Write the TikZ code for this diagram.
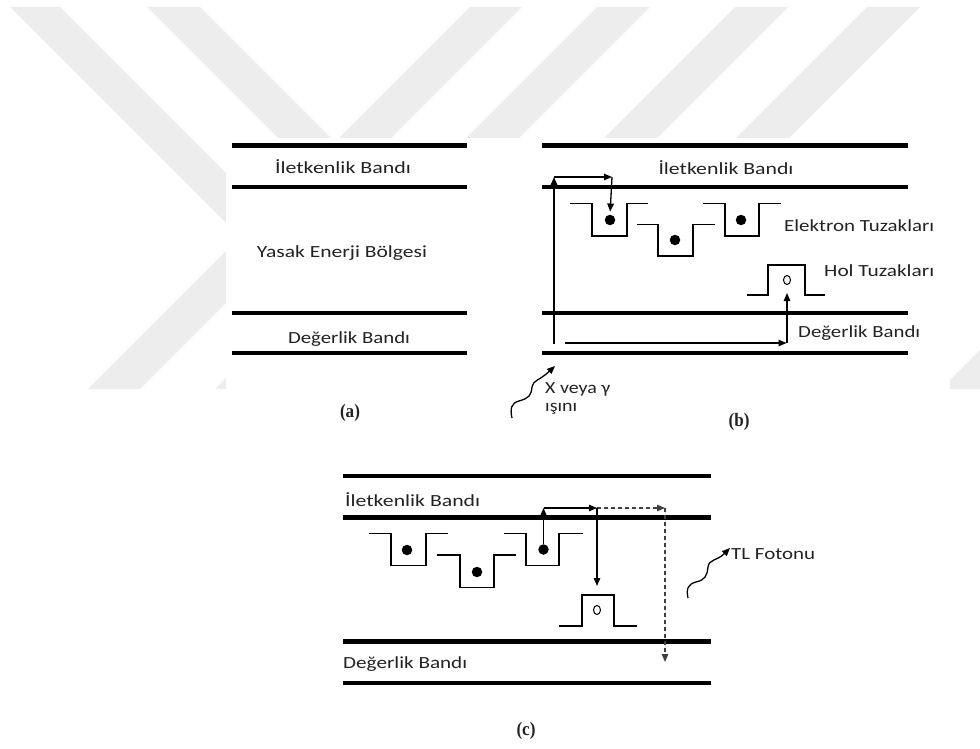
\documentclass[tikz,border=0pt]{standalone}
\usepackage{fontspec}
\setmainfont{Carlito}
\newfontfamily\serifb{Liberation Serif}
\usetikzlibrary{arrows.meta,shapes.geometric}
\definecolor{wm}{RGB}{237,237,237}
\definecolor{txt}{RGB}{35,35,35}
\newcommand\wt[2]{\resizebox{#1pt}{\height}{#2}}
\newcommand\tg[1]{\scalebox{0.9}[1]{\fontsize{19}{22}\selectfont\serifb\bfseries #1}}
\begin{document}
\begin{tikzpicture}[x=1pt,y=-1pt,
  band/.style={line width=4.7pt},
  trap/.style={line width=1.4pt},
  arr/.style={line width=1.3pt,-{Triangle[length=8pt,width=6.5pt]}},
  darr/.style={arr,dash pattern=on 4pt off 3pt,draw=black!75,fill=black!75},
  edot/.style={circle,fill=black,inner sep=0pt,minimum size=10.5pt},
  hole/.style={ellipse,draw,line width=1pt,inner sep=0pt,minimum width=7pt,minimum height=9pt},
  lab/.style={font=\fontsize{17}{20}\selectfont,text=txt,inner sep=0pt},
  tag/.style={inner sep=0pt,text=txt}]
\useasboundingbox (0,0) rectangle (980,749);
\fill[white] (0,0) rectangle (980,749);
% watermark
\begin{scope}
\clip (0,7) rectangle (980,388);
\fill[wm] (10,7) -- (60,7) -- (443,390) -- (393,390) -- cycle;
\fill[wm] (147,7) -- (200,7) -- (583,390) -- (530,390) -- cycle;
\fill[wm] (470,7) -- (522,7) -- (139,390) -- (87,390) -- cycle;
\fill[wm] (597,7) -- (650,7) -- (267,390) -- (214,390) -- cycle;
\fill[wm] (735,7) -- (788,7) -- (405,390) -- (352,390) -- cycle;
\fill[wm] (867,7) -- (920,7) -- (537,390) -- (484,390) -- cycle;
\fill[wm] (985,345) -- (985,390) -- (940,390) -- cycle;
\end{scope}
\fill[white] (226,138) rectangle (950,749);

% ---------- (a)
\draw[band] (232,145.7) -- (467,145.7);
\draw[band] (232,187) -- (467,187);
\draw[band] (232,313) -- (467,313);
\draw[band] (232,353) -- (467,353);
\node[lab,anchor=base] (acb) at (343,173.3) {\wt{136}{İletkenlik Bandı}};
\node[lab,anchor=base] (agap) at (342,257.7) {\wt{170}{Yasak Enerji Bölgesi}};
\node[lab,anchor=base] (avb) at (349,343) {\wt{122}{Değerlik Bandı}};
\node[tag] (taga) at (350,413) {\tg{(a)}};

% ---------- (b)
\draw[band] (542,145.7) -- (908,145.7);
\draw[band] (542,187) -- (908,187);
\draw[band] (542,313) -- (908,313);
\draw[band] (542,353) -- (908,353);
\draw[trap] (570,203.3) -- (592,203.3) -- (592,236) -- (627,236) -- (627,203.3) -- (648,203.3);
\draw[trap] (637,224.3) -- (658,224.3) -- (658,256) -- (693,256) -- (693,224.3) -- (715,224.3);
\draw[trap] (703,203.3) -- (725,203.3) -- (725,236) -- (759,236) -- (759,203.3) -- (781,203.3);
\draw[trap] (747,295) -- (768,295) -- (768,265) -- (805,265) -- (805,295) -- (825,295);
\node[edot] (b1) at (610,220) {};
\node[edot] (b2) at (675,240) {};
\node[edot] (b3) at (741,220) {};
\node[hole] (bh) at (787,280) {};
\node[lab,anchor=base] (bcb) at (726,175) {\wt{135}{İletkenlik Bandı}};
\node[lab,anchor=base west] (bet) at (784,231.7) {\wt{150}{Elektron Tuzakları}};
\node[lab,anchor=base west] (bht) at (824,276.7) {\wt{110}{Hol Tuzakları}};
\node[lab,anchor=base west] (bvb) at (798,337.3) {\wt{122}{Değerlik Bandı}};
\node[lab,anchor=base west] (bx1) at (545,393) {\wt{65}{X veya γ}};
\node[lab,anchor=base west] (bx2) at (545,411) {\wt{32}{ışını}};
\node[tag] (tagb) at (739,422) {\tg{(b)}};
\coordinate (bs) at (554,344);
\coordinate (bt) at (554,177);
\coordinate (br) at (612,177);
\coordinate (bh0) at (565,343);
\coordinate (bh1) at (787,343);
\coordinate (bhu) at (787,293);
\draw[arr] (bs) -- (bt);
\draw[arr] (bt) -- (br);
\draw[arr,shorten >=3pt] (br) -- (b1.north);
\draw[arr,shorten >=0.5pt] (bh0) -- (bh1);
\draw[arr] (bh1) -- (bhu);
\coordinate (xw0) at (512,418);
\coordinate (xw1) at (555,366);
\draw[arr] (xw0) .. controls (510,409) and (511,403) .. (519,401)
  .. controls (529,398) and (531,396) .. (532,387)
  .. controls (533,380) and (539,381) .. (xw1);

% ---------- (c)
\draw[band] (343,476) -- (711,476);
\draw[band] (343,517.7) -- (711,517.7);
\draw[band] (343,641.7) -- (711,641.7);
\draw[band] (343,683) -- (711,683);
\draw[trap] (369,533.3) -- (391,533.3) -- (391,565.3) -- (426,565.3) -- (426,533.3) -- (448,533.3);
\draw[trap] (437,555) -- (460,555) -- (460,587.3) -- (494,587.3) -- (494,555) -- (516,555);
\draw[trap] (504,533.3) -- (526,533.3) -- (526,565.3) -- (559,565.3) -- (559,533.3) -- (583,533.3);
\draw[trap] (559,626) -- (582,626) -- (582,595) -- (614,595) -- (614,626) -- (637,626);
\node[edot] (c1) at (407,550) {};
\node[edot] (c2) at (477,572) {};
\node[edot] (c3) at (543.5,549.5) {};
\node[hole] (ch) at (597,610) {};
\node[lab,anchor=base west] (ccb) at (345,506.7) {\wt{135}{İletkenlik Bandı}};
\node[lab,anchor=base west] (cvb) at (343,668.3) {\wt{124}{Değerlik Bandı}};
\node[lab,anchor=base west] (ctl) at (731,559.3) {\wt{84}{TL Fotonu}};
\node[tag] (tagc) at (526,731) {\tg{(c)}};
\coordinate (cu) at (543.5,508);
\coordinate (cm) at (597,508);
\coordinate (ce) at (665,508);
\coordinate (cl) at (597,586);
\coordinate (cb) at (665,662);
\draw[arr] (c3.north) -- (cu);
\draw[arr] (cu) -- (cm);
\draw[darr] (cm) -- (ce);
\draw[arr] (cm) -- (cl);
\draw[darr] (ce) -- (cb);
\coordinate (tw0) at (688,598);
\coordinate (tw1) at (730,548);
\draw[arr] (tw0) .. controls (686,589) and (688,584) .. (696,582)
  .. controls (705,580) and (707,576) .. (708,567)
  .. controls (709,559) and (717,561) .. (tw1);
\end{tikzpicture}
\end{document}
